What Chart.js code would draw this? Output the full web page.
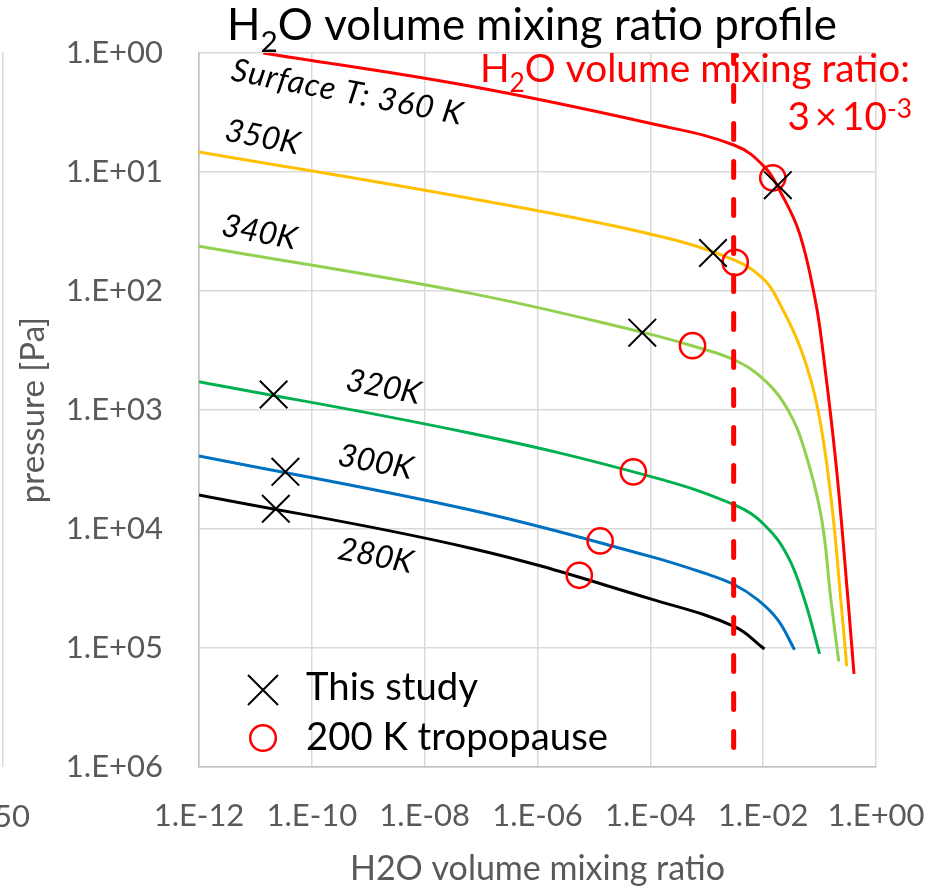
<!DOCTYPE html>
<html><head><meta charset="utf-8">
<script src="https://cdn.jsdelivr.net/npm/chart.js@4"></script>
<style>html,body{margin:0;padding:0;background:#fff;}#wrap{width:943px;height:889px;position:relative;}</style>
</head><body><div id="wrap"><canvas id="c" width="943" height="889"></canvas></div>
<script>
const FONT = 'Lato, "Open Sans", sans-serif';
const GRAY = '#595959';

// ---- axis ticks ----
const xTickValues = [1e-12, 1e-10, 1e-8, 1e-6, 1e-4, 1e-2, 1];
const xTickLabels = ['1.E-12', '1.E-10', '1.E-08', '1.E-06', '1.E-04', '1.E-02', '1.E+00'];
const yTickValues = [1, 1e1, 1e2, 1e3, 1e4, 1e5, 1e6];
const yTickLabels = ['1.E+00', '1.E+01', '1.E+02', '1.E+03', '1.E+04', '1.E+05', '1.E+06'];

// ---- profiles (H2O volume mixing ratio vs pressure [Pa]) ----
const seriesNames = ['360K', '350K', '340K', '320K', '300K', '280K'];
const seriesColors = ['#FF0000', '#FFC000', '#92D050', '#00B050', '#0070C0', '#000000'];

const vmr360 = [1.38e-11, 6.55e-8, 1.03e-4, 3.10e-3, 1.055e-2, 2.09e-2, 4.41e-2, 8.38e-2, 0.1137, 0.1977, 0.319, 0.407];
const p360   = [1.0, 1.905, 3.915, 5.96, 9.06, 15.15, 32.8, 119, 313, 2993, 3.94e4, 1.65e5];

const vmr350 = [1e-12, 6.55e-8, 1.03e-4, 3.10e-3, 1.055e-2, 1.82e-2, 4.72e-2, 9.35e-2, 0.161, 0.238, 0.303];
const p350   = [6.78, 16.7, 33.3, 55.0, 80.9, 119, 313, 994, 5700, 3.94e4, 1.43e5];

const vmr340 = [1e-12, 6.55e-8, 7.31e-5, 5.65e-4, 3.10e-3, 1.055e-2, 2.75e-2, 5.41e-2, 0.107, 0.159, 0.219];
const p340   = [42.0, 104.7, 222.6, 290, 380, 560, 1000, 2168, 7870, 3.94e4, 1.30e5];

const vmr320 = [1e-12, 6.55e-8, 1.03e-4, 3.10e-3, 1.055e-2, 2.75e-2, 5.41e-2, 0.100];
const p320   = [578, 1570, 3630, 6280, 9250, 1.706e4, 3.94e4, 1.12e5];

const vmr300 = [1e-12, 6.55e-8, 1.03e-4, 9.08e-4, 3.10e-3, 8.05e-3, 1.82e-2, 3.60e-2];
const p300   = [2432, 6918, 1.706e4, 2.35e4, 2.94e4, 3.94e4, 5.80e4, 1.035e5];

const vmr280 = [1e-12, 6.55e-8, 1.16e-4, 3.10e-3, 1.055e-2];
const p280   = [5170, 1.449e4, 3.94e4, 6.60e4, 1.02e5];

const profileVmr = [vmr360, vmr350, vmr340, vmr320, vmr300, vmr280];
const profileP   = [p360, p350, p340, p320, p300, p280];

// ---- markers ----
const studyVmr = [1.82e-2, 1.29e-3, 7.2e-5, 2.1e-11, 3.4e-11, 2.3e-11];
const studyP   = [12.9, 47.9, 224, 741, 3310, 6760];
const tropoVmr = [1.48e-2, 3.2e-3, 5.6e-4, 5.0e-5, 1.29e-5, 5.5e-6];
const tropoP   = [11.2, 57.5, 288, 3310, 1.26e4, 2.45e4];

// ---- reference vertical line ----
const refVmr = [3e-3, 3e-3];
const refP   = [1, 7.0e5];

// ---- curve labels (anchored in data space) ----
const curveLabelText = ['Surface T: 360 K', '350K', '340K', '320K', '300K', '280K'];
const curveLabelVmr  = [4.3e-10, 1.33e-11, 1.17e-11, 1.86e-9, 1.35e-9, 1.35e-9];
const curveLabelP    = [2.14, 5.1, 32.1, 641, 2735, 16830];

const pts = (xs, ys) => xs.map((x, i) => ({x, y: ys[i]}));

const datasets = [];
datasets.push({label: 'This study', data: pts(studyVmr, studyP), showLine: false,
  pointStyle: 'crossRot', pointRadius: 19.5, pointBorderWidth: 2, borderColor: '#000', backgroundColor: '#000', order: 0});
datasets.push({label: '200 K tropopause', data: pts(tropoVmr, tropoP), showLine: false,
  pointStyle: 'circle', pointRadius: 12.6, pointBorderWidth: 2.5, borderColor: '#FF0000', backgroundColor: 'rgba(0,0,0,0)', order: 1});
datasets.push({label: 'ref', data: pts(refVmr, refP), showLine: true, pointRadius: 0,
  borderColor: '#FF0000', borderWidth: 5, borderDash: [16, 22], borderDashOffset: 5.5, borderCapStyle: 'round', order: 2});
seriesNames.forEach((n, i) => datasets.push({label: n, data: pts(profileVmr[i], profileP[i]), showLine: true,
  pointRadius: 0, borderColor: seriesColors[i], borderWidth: 3, tension: 0.4, order: 3 + i}));

function setFont(ctx, size, style) { ctx.font = (style || '') + ' ' + size + 'px ' + FONT; }
function richWidth(ctx, parts, size, style) {
  let w = 0;
  for (const [t, m] of parts) { setFont(ctx, m ? size * 0.68 : size, style); w += ctx.measureText(t).width; }
  return w;
}
function richDraw(ctx, parts, x, y, size, color, style) {
  ctx.fillStyle = color; ctx.textAlign = 'left'; ctx.textBaseline = 'alphabetic';
  let cx = x;
  for (const [t, m] of parts) {
    const s = m ? size * 0.68 : size;
    setFont(ctx, s, style);
    const dy = m === -1 ? size * 0.27 : (m === 1 ? -size * 0.31 : 0);
    ctx.fillText(t, cx, y + dy);
    cx += ctx.measureText(t).width;
  }
}
function fitSize(ctx, parts, target, style) { return 100 * target / richWidth(ctx, parts, 100, style); }

const decor = {
  id: 'decor',
  afterDatasetsDraw(chart) {
    const ctx = chart.ctx, xs = chart.scales.x, ys = chart.scales.y;
    curveLabelText.forEach((t, i) => {
      const px = xs.getPixelForValue(curveLabelVmr[i]);
      const py = ys.getPixelForValue(curveLabelP[i]);
      ctx.save();
      ctx.translate(px, py);
      ctx.rotate(11 * Math.PI / 180);
      setFont(ctx, 32, 'italic');
      if (i === 0 && 'letterSpacing' in ctx) ctx.letterSpacing = '1px';
      ctx.fillStyle = '#000'; ctx.textAlign = 'center'; ctx.textBaseline = 'middle';
      ctx.fillText(t, 0, 0);
      ctx.restore();
    });
  },
  afterDraw(chart) {
    const ctx = chart.ctx;
    ctx.save();
    // main title
    const title = [['H', 0], ['2', -1], ['O volume mixing ratio profile', 0]];
    richDraw(ctx, title, 227, 40, fitSize(ctx, title, 610), '#000');
    // red annotation
    const r1 = [['H', 0], ['2', -1], ['O volume mixing ratio:', 0]];
    const rs = fitSize(ctx, r1, 430);
    richDraw(ctx, r1, 480, 82, rs, '#FF0000');
    const r2 = [['3\u2009\u00d7\u200910', 0], ['-3', 1]];
    richDraw(ctx, r2, 912 - richWidth(ctx, r2, rs), 130, rs, '#FF0000');
    // legend
    const l1 = [['This study', 0]], l2 = [['200 K tropopause', 0]];
    const ls = fitSize(ctx, l2, 302);
    ctx.strokeStyle = '#000'; ctx.lineWidth = 2;
    ctx.beginPath();
    ctx.moveTo(248, 675); ctx.lineTo(278, 705);
    ctx.moveTo(278, 675); ctx.lineTo(248, 705);
    ctx.stroke();
    ctx.strokeStyle = '#FF0000'; ctx.lineWidth = 2.5;
    ctx.beginPath(); ctx.arc(263, 738, 12.8, 0, Math.PI * 2); ctx.stroke();
    richDraw(ctx, l1, 306, 700, ls, '#000');
    richDraw(ctx, l2, 306, 750, ls, '#000');
    // neighbouring panel edge (cropped)
    ctx.strokeStyle = '#D9D9D9'; ctx.lineWidth = 1.5;
    ctx.beginPath(); ctx.moveTo(2.7, 52); ctx.lineTo(2.7, 767); ctx.stroke();
    setFont(ctx, 31); ctx.fillStyle = GRAY; ctx.textAlign = 'right'; ctx.textBaseline = 'alphabetic';
    ctx.fillText('50', 30, 827);
    ctx.restore();
  }
};

new Chart(document.getElementById('c'), {
  type: 'scatter',
  data: {datasets},
  plugins: [decor],
  options: {
    responsive: false, animation: false, events: [],
    layout: {padding: {left: 0, top: 53, right: 67, bottom: 0}},
    plugins: {legend: {display: false}, title: {display: false}, tooltip: {enabled: false}},
    scales: {
      x: {
        type: 'logarithmic', min: 1e-12, max: 1, position: 'bottom',
        afterBuildTicks: s => { s.ticks = xTickValues.map(v => ({value: v})); },
        afterFit: s => { s.height = 122; s.paddingLeft = 0; s.paddingRight = 0; },
        ticks: {callback: v => xTickLabels[xTickValues.indexOf(v)], color: GRAY,
          font: {family: FONT, size: 31}, padding: 30, maxRotation: 0, autoSkip: false},
        grid: {color: '#D9D9D9', lineWidth: 1.5, drawTicks: false},
        border: {color: '#BFBFBF', width: 1.5},
        title: {display: true, text: 'H2O volume mixing ratio', color: GRAY,
          font: {family: FONT, size: 34}, padding: {top: 0, bottom: 0}}
      },
      y: {
        type: 'logarithmic', min: 1, max: 1e6, reverse: true, position: 'left',
        afterBuildTicks: s => { s.ticks = yTickValues.map(v => ({value: v})); },
        afterFit: s => { s.width = 199; s.paddingTop = 0; s.paddingBottom = 0; },
        ticks: {callback: v => yTickLabels[yTickValues.indexOf(v)], color: GRAY,
          font: {family: FONT, size: 31}, padding: 36, autoSkip: false},
        grid: {color: '#D9D9D9', lineWidth: 1.5, drawTicks: false},
        border: {color: '#BFBFBF', width: 1.5},
        title: {display: true, text: 'pressure [Pa]', color: GRAY,
          font: {family: FONT, size: 33}, padding: {top: 14, bottom: 0}}
      }
    }
  }
});
</script></body></html>
